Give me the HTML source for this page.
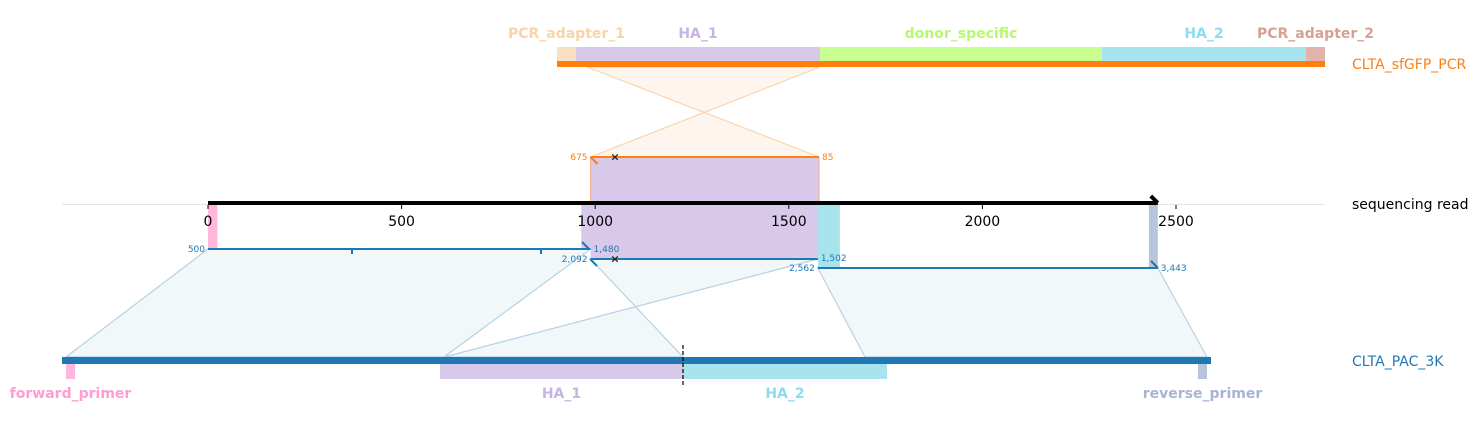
<!DOCTYPE html>
<html><head><meta charset="utf-8">
<style>
html,body{margin:0;padding:0;background:#fff;}
svg{display:block;font-family:"DejaVu Sans","Liberation Sans",sans-serif;}
</style></head>
<body>
<svg id="chart" width="1478" height="426" viewBox="0 0 1478 426" xmlns="http://www.w3.org/2000/svg"></svg>
<script>
// read axis
const readTicks = [0, 500, 1000, 1500, 2000, 2500];
const readLength = 2453;
// top reference features
const topFeatNames = ["PCR_adapter_1","HA_1","donor_specific","HA_2","PCR_adapter_2"];
const topFeatStart = [557, 576, 820, 1102, 1306];
const topFeatEnd   = [576, 820, 1102, 1306, 1325];
const topFeatColor = ["#f9dfc2","#d8c8ea","#c8ff90","#a8e4ee","#e0b4aa"];
const topLabelColor= ["#f8d4a8","#c8b4e4","#b8f870","#8cdcec","#d8a090"];
// bottom reference features
const botFeatNames = ["forward_primer","HA_1","HA_2","reverse_primer"];
const botFeatStart = [66, 440, 683, 1198];
const botFeatEnd   = [75, 683, 887, 1207];
const botFeatColor = ["#ffb8dc","#d8c8ea","#a8e4ee","#b8c4dc"];
const botLabelColor= ["#ff9cd0","#c8b4e4","#8cdcec","#a8b4d4"];
// read-level features (read coordinates)
const readFeatStart = [0, 964, 988, 1575, 2430];
const readFeatEnd   = [24, 988, 1578, 1632, 2453];
const readFeatColor = ["#ffb8dc","#d8c8ea","#d8c8ea","#a8e4ee","#b8c4dc"];
// alignments of read segments to PAC_3K
const segReadStart = [0, 988, 1575];
const segReadEnd   = [988, 1575, 2453];
const segLabelL = ["500","2,092","2,562"];
const segLabelR = ["1,480","1,502","3,443"];
const segBotA = [66, 683, 865];
const segBotB = [444, 444, 1207];
// alignment to sfGFP_PCR
const pcrReadStart = 988, pcrReadEnd = 1578;
const pcrLabelL = "675", pcrLabelR = "85";
const pcrTopA = 587, pcrTopB = 820;

const X0 = 208, PX = 0.3872;
function xs(v){ return X0 + v*PX; }

const svg = document.getElementById('chart');
const NS = "http://www.w3.org/2000/svg";
function mk(tag, attrs, name, parent){
  const el = document.createElementNS(NS, tag);
  for (const k in attrs) el.setAttribute(k, attrs[k]);
  
  
  (parent||svg).appendChild(el);
  return el;
}
function txt(s, attrs, name){ const t = mk('text', attrs, name); t.textContent = s; return t; }

mk('line',{x1:62,y1:204.5,x2:1325,y2:204.5,stroke:'#e6e6e6','stroke-width':1},'read-axis-gridline');

const yPcr = 157;
mk('polygon',{points:`${pcrTopA},67 ${pcrTopB},67 ${xs(pcrReadStart)},${yPcr} ${xs(pcrReadEnd)},${yPcr}`,fill:'#fdf5ee',stroke:'#fcd3ae','stroke-width':1.2},'pcr-link-polygon');

const ySegs = [249, 259, 268];
for (let i=0;i<segReadStart.length;i++){
  mk('polygon',{points:`${xs(segReadStart[i])},${ySegs[i]} ${xs(segReadEnd[i])},${ySegs[i]} ${segBotB[i]},357 ${segBotA[i]},357`,fill:'#f2f7fa',stroke:'#b4d2e8','stroke-width':1.2},'pac-link-polygon-'+(i+1));
}

for (let i=0;i<readFeatStart.length;i++){
  const x1=xs(readFeatStart[i]), x2=xs(readFeatEnd[i]);
  let y2 = (i==3||i==4)?268:(i==2?259:249);
  let y1 = (i==2)?yPcr:204;
  mk('rect',{x:x1,y:y1,width:x2-x1,height:y2-y1,fill:readFeatColor[i]},'read-feature-'+(i+1));
}
mk('line',{x1:xs(pcrReadStart),y1:yPcr,x2:xs(pcrReadStart),y2:204,stroke:'#f3a88a','stroke-width':1},'pcr-edge-left');
mk('line',{x1:xs(pcrReadEnd),y1:yPcr,x2:xs(pcrReadEnd),y2:204,stroke:'#f3a88a','stroke-width':1},'pcr-edge-right');

for (let i=0;i<topFeatNames.length;i++){
  mk('rect',{x:topFeatStart[i],y:47,width:topFeatEnd[i]-topFeatStart[i],height:14,fill:topFeatColor[i]},'top-feature-'+topFeatNames[i]);
  txt(topFeatNames[i],{x:(topFeatStart[i]+topFeatEnd[i])/2,y:38,'text-anchor':'middle','font-size':14,'font-weight':'bold',fill:topLabelColor[i]},'top-label-'+topFeatNames[i]);
}
mk('rect',{x:557,y:61,width:768,height:6,fill:'#ff7f0e'},'top-reference-bar');
txt('CLTA_sfGFP_PCR',{x:1352,y:69,'font-size':14,fill:'#ff7f0e'},'top-reference-label');

mk('line',{x1:xs(pcrReadStart),y1:yPcr,x2:xs(pcrReadEnd),y2:yPcr,stroke:'#ff7f0e','stroke-width':2},'pcr-alignment-segment');
mk('line',{x1:xs(pcrReadStart),y1:yPcr,x2:xs(pcrReadStart)+7,y2:yPcr+7,stroke:'#ff7f0e','stroke-width':2},'pcr-strand-mark');
txt(pcrLabelL,{x:xs(pcrReadStart)-3,y:yPcr+3,'text-anchor':'end','font-size':9,fill:'#ff7f0e'},'pcr-label-start');
txt(pcrLabelR,{x:xs(pcrReadEnd)+3,y:yPcr+3,'font-size':9,fill:'#ff7f0e'},'pcr-label-end');
txt('×',{x:615,y:yPcr+3.5,'text-anchor':'middle','font-size':11,'font-weight':'bold',fill:'#222'},'pcr-mismatch-mark');

mk('line',{x1:xs(0),y1:203,x2:xs(readLength),y2:203,stroke:'#000','stroke-width':4},'sequencing-read-line');
mk('polyline',{points:`${xs(readLength)-7},196 ${xs(readLength)},203`,fill:'none',stroke:'#000','stroke-width':4},'sequencing-read-arrow');
readTicks.forEach(t=>{
  mk('line',{x1:xs(t),y1:205,x2:xs(t),y2:209,stroke:'#000','stroke-width':1},'read-tick-'+t);
  txt(String(t),{x:xs(t),y:226,'text-anchor':'middle','font-size':14,fill:'#000'},'read-tick-label-'+t);
});
txt('sequencing read',{x:1352,y:209,'font-size':14,fill:'#000'},'sequencing-read-label');

for (let i=0;i<segReadStart.length;i++){
  const a=xs(segReadStart[i]), b=xs(segReadEnd[i]), y=ySegs[i];
  mk('line',{x1:a,y1:y,x2:b,y2:y,stroke:'#1f77b4','stroke-width':2},'read-segment-'+(i+1));
  txt(segLabelL[i],{x:a-3,y:y+3,'text-anchor':'end','font-size':9,fill:'#1f77b4'},'segment-start-label-'+(i+1));
  txt(segLabelR[i],{x:b+3,y:y+(i==1?2:3),'font-size':9,fill:'#1f77b4'},'segment-end-label-'+(i+1));
}
mk('line',{x1:352,y1:249,x2:352,y2:254,stroke:'#1f77b4','stroke-width':2},'segment-tick-1');
mk('line',{x1:541,y1:249,x2:541,y2:254,stroke:'#1f77b4','stroke-width':2},'segment-tick-2');
mk('line',{x1:582,y1:242,x2:589,y2:249,stroke:'#1f77b4','stroke-width':2},'segment-strand-mark-1');
mk('line',{x1:590,y1:259,x2:597,y2:266,stroke:'#1f77b4','stroke-width':2},'segment-strand-mark-2');
mk('line',{x1:1151,y1:261,x2:1158,y2:268,stroke:'#1f77b4','stroke-width':2},'segment-strand-mark-3');
txt('×',{x:615,y:262.5,'text-anchor':'middle','font-size':11,'font-weight':'bold',fill:'#222'},'segment-mismatch-mark');

for (let i=0;i<botFeatNames.length;i++){
  mk('rect',{x:botFeatStart[i],y:364,width:botFeatEnd[i]-botFeatStart[i],height:15,fill:botFeatColor[i]},'bottom-feature-'+botFeatNames[i]);
  txt(botFeatNames[i],{x:(botFeatStart[i]+botFeatEnd[i])/2,y:398,'text-anchor':'middle','font-size':14,'font-weight':'bold',fill:botLabelColor[i]},'bottom-label-'+botFeatNames[i]);
}
mk('rect',{x:62,y:357,width:1149,height:7,fill:'#1f77b4'},'bottom-reference-bar');
mk('line',{x1:683,y1:345,x2:683,y2:385,stroke:'#000','stroke-width':1.2,'stroke-dasharray':'4,2'},'junction-dashed-line');
txt('CLTA_PAC_3K',{x:1352,y:366,'font-size':14,fill:'#1f77b4'},'bottom-reference-label');
</script>
</body></html>
